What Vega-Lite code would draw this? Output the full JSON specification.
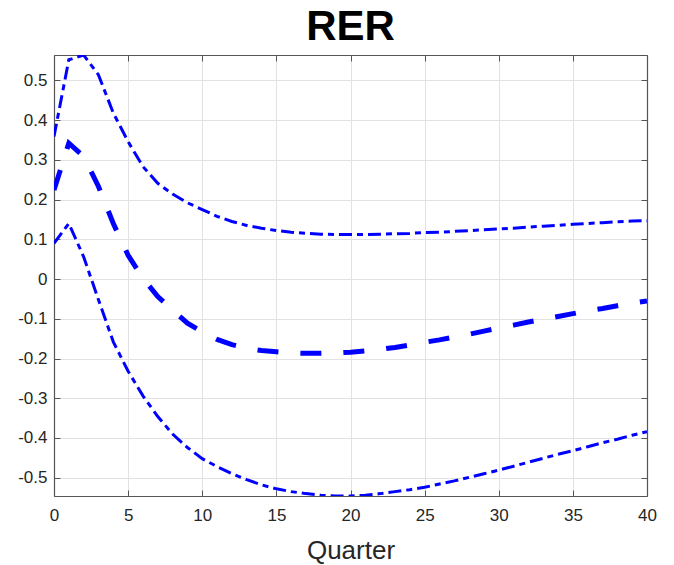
{
  "$schema": "https://vega.github.io/schema/vega-lite/v6.json",
  "autosize": {"type": "none"},
  "padding": {"left": 54, "top": 55, "right": 27, "bottom": 69},
  "width": 593,
  "height": 441,
  "background": "white",
  "title": {"text": "RER", "fontSize": 42, "font": "Liberation Sans", "fontWeight": "bold", "color": "#000000", "offset": 6, "anchor": "middle"},
  "config": {"view": {"stroke": null}, "axis": {"labelFont": "Liberation Sans", "titleFont": "Liberation Sans"}},
  "datasets": {
    "irf": [
      {"q":0,"v":0.359,"s":"upper"},{"q":1,"v":0.552,"s":"upper"},{"q":2,"v":0.564,"s":"upper"},{"q":3,"v":0.514,"s":"upper"},{"q":4,"v":0.418,"s":"upper"},{"q":5,"v":0.346,"s":"upper"},{"q":6,"v":0.283,"s":"upper"},{"q":7,"v":0.241,"s":"upper"},{"q":8,"v":0.214,"s":"upper"},{"q":9,"v":0.192,"s":"upper"},{"q":10,"v":0.175,"s":"upper"},{"q":11,"v":0.158,"s":"upper"},{"q":12,"v":0.145,"s":"upper"},{"q":13,"v":0.135,"s":"upper"},{"q":14,"v":0.128,"s":"upper"},{"q":15,"v":0.122,"s":"upper"},{"q":16,"v":0.118,"s":"upper"},{"q":17,"v":0.115,"s":"upper"},{"q":18,"v":0.113,"s":"upper"},{"q":19,"v":0.112,"s":"upper"},{"q":20,"v":0.112,"s":"upper"},{"q":21,"v":0.112,"s":"upper"},{"q":22,"v":0.113,"s":"upper"},{"q":23,"v":0.114,"s":"upper"},{"q":24,"v":0.115,"s":"upper"},{"q":25,"v":0.117,"s":"upper"},{"q":26,"v":0.118,"s":"upper"},{"q":27,"v":0.120,"s":"upper"},{"q":28,"v":0.122,"s":"upper"},{"q":29,"v":0.124,"s":"upper"},{"q":30,"v":0.126,"s":"upper"},{"q":31,"v":0.128,"s":"upper"},{"q":32,"v":0.131,"s":"upper"},{"q":33,"v":0.133,"s":"upper"},{"q":34,"v":0.135,"s":"upper"},{"q":35,"v":0.138,"s":"upper"},{"q":36,"v":0.140,"s":"upper"},{"q":37,"v":0.142,"s":"upper"},{"q":38,"v":0.144,"s":"upper"},{"q":39,"v":0.146,"s":"upper"},{"q":40,"v":0.147,"s":"upper"},
      {"q":0,"v":0.090,"s":"lower"},{"q":1,"v":0.140,"s":"lower"},{"q":2,"v":0.056,"s":"lower"},{"q":3,"v":-0.052,"s":"lower"},{"q":4,"v":-0.158,"s":"lower"},{"q":5,"v":-0.232,"s":"lower"},{"q":6,"v":-0.294,"s":"lower"},{"q":7,"v":-0.346,"s":"lower"},{"q":8,"v":-0.390,"s":"lower"},{"q":9,"v":-0.424,"s":"lower"},{"q":10,"v":-0.452,"s":"lower"},{"q":11,"v":-0.472,"s":"lower"},{"q":12,"v":-0.490,"s":"lower"},{"q":13,"v":-0.505,"s":"lower"},{"q":14,"v":-0.518,"s":"lower"},{"q":15,"v":-0.528,"s":"lower"},{"q":16,"v":-0.535,"s":"lower"},{"q":17,"v":-0.540,"s":"lower"},{"q":18,"v":-0.544,"s":"lower"},{"q":19,"v":-0.546,"s":"lower"},{"q":20,"v":-0.546,"s":"lower"},{"q":21,"v":-0.544,"s":"lower"},{"q":22,"v":-0.540,"s":"lower"},{"q":23,"v":-0.535,"s":"lower"},{"q":24,"v":-0.530,"s":"lower"},{"q":25,"v":-0.524,"s":"lower"},{"q":26,"v":-0.516,"s":"lower"},{"q":27,"v":-0.508,"s":"lower"},{"q":28,"v":-0.499,"s":"lower"},{"q":29,"v":-0.490,"s":"lower"},{"q":30,"v":-0.481,"s":"lower"},{"q":31,"v":-0.471,"s":"lower"},{"q":32,"v":-0.461,"s":"lower"},{"q":33,"v":-0.451,"s":"lower"},{"q":34,"v":-0.441,"s":"lower"},{"q":35,"v":-0.432,"s":"lower"},{"q":36,"v":-0.422,"s":"lower"},{"q":37,"v":-0.412,"s":"lower"},{"q":38,"v":-0.403,"s":"lower"},{"q":39,"v":-0.393,"s":"lower"},{"q":40,"v":-0.384,"s":"lower"},
      {"q":0,"v":0.224,"s":"mid"},{"q":1,"v":0.342,"s":"mid"},{"q":2,"v":0.309,"s":"mid"},{"q":3,"v":0.233,"s":"mid"},{"q":4,"v":0.140,"s":"mid"},{"q":5,"v":0.060,"s":"mid"},{"q":6,"v":0.002,"s":"mid"},{"q":7,"v":-0.044,"s":"mid"},{"q":8,"v":-0.078,"s":"mid"},{"q":9,"v":-0.111,"s":"mid"},{"q":10,"v":-0.133,"s":"mid"},{"q":11,"v":-0.152,"s":"mid"},{"q":12,"v":-0.165,"s":"mid"},{"q":13,"v":-0.174,"s":"mid"},{"q":14,"v":-0.180,"s":"mid"},{"q":15,"v":-0.183,"s":"mid"},{"q":16,"v":-0.186,"s":"mid"},{"q":17,"v":-0.187,"s":"mid"},{"q":18,"v":-0.187,"s":"mid"},{"q":19,"v":-0.186,"s":"mid"},{"q":20,"v":-0.184,"s":"mid"},{"q":21,"v":-0.181,"s":"mid"},{"q":22,"v":-0.177,"s":"mid"},{"q":23,"v":-0.172,"s":"mid"},{"q":24,"v":-0.166,"s":"mid"},{"q":25,"v":-0.159,"s":"mid"},{"q":26,"v":-0.153,"s":"mid"},{"q":27,"v":-0.146,"s":"mid"},{"q":28,"v":-0.139,"s":"mid"},{"q":29,"v":-0.131,"s":"mid"},{"q":30,"v":-0.123,"s":"mid"},{"q":31,"v":-0.116,"s":"mid"},{"q":32,"v":-0.108,"s":"mid"},{"q":33,"v":-0.101,"s":"mid"},{"q":34,"v":-0.094,"s":"mid"},{"q":35,"v":-0.087,"s":"mid"},{"q":36,"v":-0.080,"s":"mid"},{"q":37,"v":-0.074,"s":"mid"},{"q":38,"v":-0.067,"s":"mid"},{"q":39,"v":-0.061,"s":"mid"},{"q":40,"v":-0.055,"s":"mid"}
    ]
  },
  "data": {"name": "irf"},
  "resolve": {"axis": {"x": "independent", "y": "independent"}},
  "layer": [
    {
      "transform": [{"filter": "datum.s !== 'mid'"}],
      "mark": {"type": "line", "color": "#0000ff", "strokeWidth": 3, "strokeDash": [13, 5, 6, 5], "clip": true},
      "encoding": {
        "x": {"field": "q", "type": "quantitative",
          "scale": {"domain": [0, 40], "nice": false, "zero": false},
          "axis": {"orient": "bottom", "title": "Quarter", "titleFontSize": 26, "titleFontWeight": "normal", "titleColor": "#262626", "titlePadding": 14,
            "values": [0,5,10,15,20,25,30,35,40], "labelFontSize": 17, "labelColor": "#262626", "labelFlush": false, "labelOverlap": false,
            "grid": true, "gridColor": "#e2e2e2", "gridWidth": 1,
            "domainColor": "#555555", "domainWidth": 1.2, "tickColor": "#555555", "tickSize": -6, "labelPadding": 17}},
        "y": {"field": "v", "type": "quantitative",
          "scale": {"domain": [-0.546, 0.564], "nice": false, "zero": false},
          "axis": {"orient": "left", "title": null,
            "values": [-0.5,-0.4,-0.3,-0.2,-0.1,0,0.1,0.2,0.3,0.4,0.5], "labelExpr": "'' + datum.value",
            "labelFontSize": 17, "labelColor": "#262626", "labelFlush": false, "labelOverlap": false,
            "grid": true, "gridColor": "#e2e2e2", "gridWidth": 1,
            "domainColor": "#555555", "domainWidth": 1.2, "tickColor": "#555555", "tickSize": -6, "labelPadding": 13}},
        "detail": {"field": "s", "type": "nominal"}
      }
    },
    {
      "transform": [{"filter": "datum.s === 'mid'"}],
      "mark": {"type": "line", "color": "#0000ff", "strokeWidth": 5, "strokeDash": [21, 22], "clip": true},
      "encoding": {
        "x": {"field": "q", "type": "quantitative",
          "axis": {"orient": "top", "title": null, "labels": false, "values": [0,5,10,15,20,25,30,35,40],
            "grid": false, "domainColor": "#555555", "domainWidth": 1.2, "tickColor": "#555555", "tickSize": -6}},
        "y": {"field": "v", "type": "quantitative",
          "axis": {"orient": "right", "title": null, "labels": false,
            "values": [-0.5,-0.4,-0.3,-0.2,-0.1,0,0.1,0.2,0.3,0.4,0.5],
            "grid": false, "domainColor": "#555555", "domainWidth": 1.2, "tickColor": "#555555", "tickSize": -6}}
      }
    }
  ]
}
